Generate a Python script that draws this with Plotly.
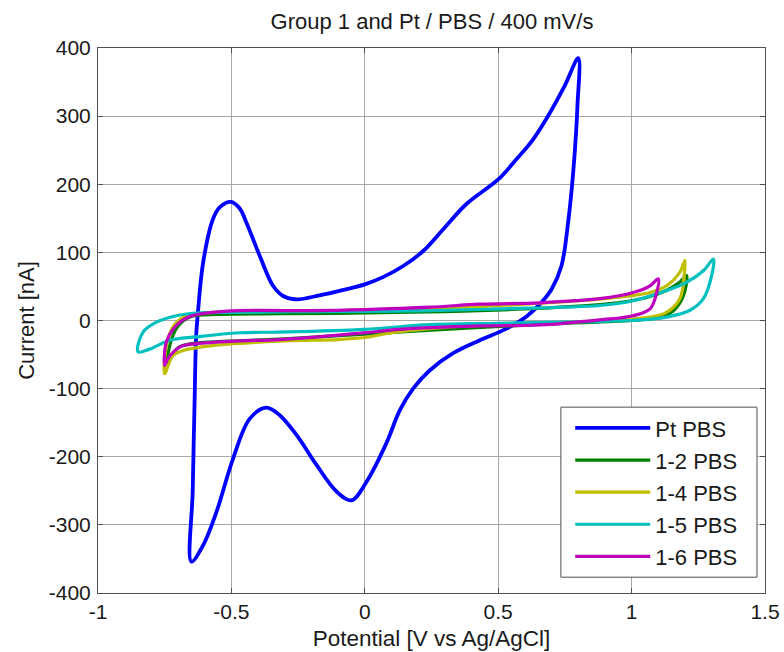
import plotly.graph_objects as go

# ---- data ----
pt_x = [-0.65, -0.645, -0.638, -0.632, -0.625, -0.606, -0.569, -0.544, -0.502, -0.47, -0.444, -0.394,
        -0.344, -0.306, -0.256, -0.169, -0.08, 0.0, 0.07, 0.144, 0.219, 0.294, 0.381, 0.5, 0.569,
        0.631, 0.694, 0.75, 0.8,
        0.797, 0.781, 0.762, 0.737, 0.7, 0.656, 0.606, 0.531, 0.431, 0.331, 0.244, 0.181, 0.131,
        0.081, 0.006, -0.05, -0.106, -0.181, -0.256, -0.319, -0.369, -0.431, -0.494, -0.556,
        -0.606, -0.65]
pt_y = [-354, -250, -120, -22, 14, 85, 149, 166, 174, 165, 144, 95,
        51, 36, 31, 37, 45, 53, 64, 80, 102, 134, 171, 207, 237,
        266, 305, 345, 385,
        315, 217, 144, 80, 46, 24, 6, -12, -29, -48, -73, -100, -132,
        -180, -237, -264, -251, -212, -168, -139, -128, -144, -203, -281,
        -330, -354]

g12_x = [-0.738, -0.73, -0.70, -0.65, -0.55, -0.3, 0.0, 0.3, 0.6, 0.9, 1.05, 1.13, 1.18, 1.206,
         1.194, 1.156, 1.106, 1.0, 0.7, 0.4, 0.0, -0.3, -0.55, -0.65, -0.70, -0.738]
g12_y = [-61, -35, -8, 6, 9, 10, 11, 13, 17, 24, 33, 44, 56, 66,
         36, 14, 5, 0, -5, -11, -20, -27, -31, -34, -40, -61]

g14_x = [-0.75, -0.745, -0.72, -0.68, -0.6, -0.4, 0.0, 0.3, 0.6, 0.9, 1.069, 1.131, 1.181, 1.2,
         1.197, 1.181, 1.131, 1.069, 0.9, 0.6, 0.3, 0.1, 0.0, -0.1, -0.3, -0.55, -0.68, -0.72, -0.75]
g14_y = [-78, -40, -10, 5, 11, 13, 15, 18, 24, 32, 41, 51, 71, 88,
         66, 32, 12, 5, 0, -5, -10, -18, -25, -28, -30, -36, -44, -52, -78]

g15_x = [-0.85, -0.831, -0.781, -0.706, -0.631, -0.5, -0.2, 0.2, 0.5, 0.881, 1.006, 1.131, 1.206,
         1.269, 1.307, 1.3, 1.269, 1.219, 1.131, 1.0, 0.8, 0.5, 0.244, 0.0, -0.319, -0.469, -0.631,
         -0.731, -0.806, -0.85]
g15_y = [-46, -17, -2.5, 7, 11, 12, 13, 14, 17, 22, 29, 44, 56,
         73, 90, 66, 32, 15, 5, 0, -2, -4, -6, -13, -17, -18, -24,
         -29, -42, -46]

g16_x = [-0.75, -0.744, -0.706, -0.656, -0.569, -0.469, -0.194, 0.0, 0.244, 0.431, 0.656, 0.881,
         1.006, 1.069, 1.1, 1.094, 1.069, 1.006, 0.881, 0.656, 0.431, 0.131, 0.0, -0.319, -0.469,
         -0.631, -0.694, -0.738, -0.75]
g16_y = [-66, -32, -7, 6, 12, 14.5, 14.5, 16, 19.5, 24, 26, 32,
         41, 51, 61, 41, 17, 7, 1, -6.5, -8, -13, -18, -28, -30,
         -34, -39, -56, -66]

series_names = ["Pt PBS", "1-2 PBS", "1-4 PBS", "1-5 PBS", "1-6 PBS"]
series_x = [pt_x, g12_x, g14_x, g15_x, g16_x]
series_y = [pt_y, g12_y, g14_y, g15_y, g16_y]
series_colors = ["#0000FF", "#008000", "#BFBF00", "#00BFBF", "#BF00BF"]

x_tickvals = [-1, -0.5, 0, 0.5, 1, 1.5]
x_ticktext = ["-1", "-0.5", "0", "0.5", "1", "1.5"]
y_tickvals = [-400, -300, -200, -100, 0, 100, 200, 300, 400]
y_ticktext = ["-400", "-300", "-200", "-100", "0", "100", "200", "300", "400"]

FONT = "Liberation Sans, Arial, sans-serif"

fig = go.Figure()
for name, xs, ys, col in zip(series_names, series_x, series_y, series_colors):
    fig.add_trace(go.Scatter(
        x=xs, y=ys, name=name, mode="lines", legendgroup=name,
        line=dict(color=col, width=3.8 if name == "Pt PBS" else 3.2, shape="spline", smoothing=1.0),
    ))

axis_common = dict(
    showgrid=True, gridcolor="#a8a8a8", gridwidth=1,
    showline=True, linecolor="#505050", linewidth=1, mirror="ticks",
    ticks="inside", ticklen=5, tickcolor="#505050",
    zeroline=False, automargin=False,
    tickfont=dict(family=FONT, size=21, color="#1a1a1a"),
)

# legend frame (drawn as a paper-referenced box behind the legend entries)
fig.add_shape(type="rect", xref="paper", yref="paper",
              x0=0.694, x1=0.988, y0=0.029, y1=0.341,
              line=dict(color="#505050", width=1), fillcolor="white", layer="above")

fig.update_layout(
    width=784, height=652,
    margin=dict(l=98, r=19, t=48, b=59),
    paper_bgcolor="white", plot_bgcolor="white",
    title=dict(text="Group 1 and Pt / PBS / 400 mV/s", x=0.551, xanchor="center",
               y=0.968, yanchor="middle",
               font=dict(family=FONT, size=22, color="#1a1a1a")),
    xaxis=dict(range=[-1, 1.5], tickvals=x_tickvals, ticktext=x_ticktext,
               title=dict(text="Potential [V vs Ag/AgCl]", standoff=8,
                          font=dict(family=FONT, size=22.5, color="#1a1a1a")),
               **axis_common),
    yaxis=dict(range=[-400, 400], tickvals=y_tickvals, ticktext=y_ticktext,
               ticklabelstandoff=2,
               title=dict(text="Current [nA]", standoff=8,
                          font=dict(family=FONT, size=22, color="#1a1a1a")),
               **axis_common),
    legend=dict(x=0.708, y=0.341, xanchor="left", yanchor="top",
                bgcolor="rgba(0,0,0,0)", borderwidth=0,
                font=dict(family=FONT, size=22, color="#1a1a1a"),
                itemwidth=75, tracegroupgap=0.5),
    showlegend=True,
)

fig.write_html("out.html")
